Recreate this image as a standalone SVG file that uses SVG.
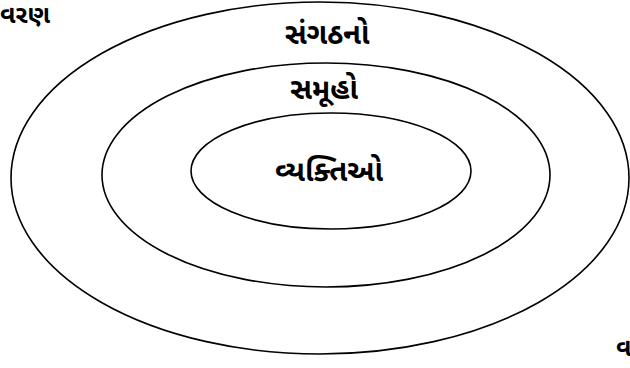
<svg xmlns="http://www.w3.org/2000/svg" width="630" height="368" viewBox="0 0 630 368">
<style>
.ring{fill:none;stroke:#000;stroke-width:1.6}
.lbl{font-family:"Noto Sans Gujarati","Lohit Gujarati","Noto Sans",sans-serif;font-weight:bold;font-size:29px;fill:#000;text-anchor:middle}
.edge{font-family:"Noto Sans Gujarati","Lohit Gujarati","Noto Sans",sans-serif;font-weight:bold;font-size:25px;fill:#000}
</style>
<rect width="630" height="368" fill="#fff"/>
<g id="outer">
<ellipse class="ring" cx="320" cy="178" rx="309" ry="176"/>
<text class="lbl" x="327" y="44">સંગઠનો</text>
</g>
<g id="middle">
<ellipse class="ring" cx="326" cy="175" rx="224" ry="112"/>
<text class="lbl" x="324" y="99">સમૂહો</text>
</g>
<g id="inner">
<ellipse class="ring" cx="331" cy="171" rx="140" ry="58"/>
<text class="lbl" x="329" y="181">વ્યક્તિઓ</text>
</g>
<g id="connectors"></g>
<text class="edge" x="0" y="23">વરણ</text>
<text class="edge" x="616" y="356">વ</text>
</svg>
